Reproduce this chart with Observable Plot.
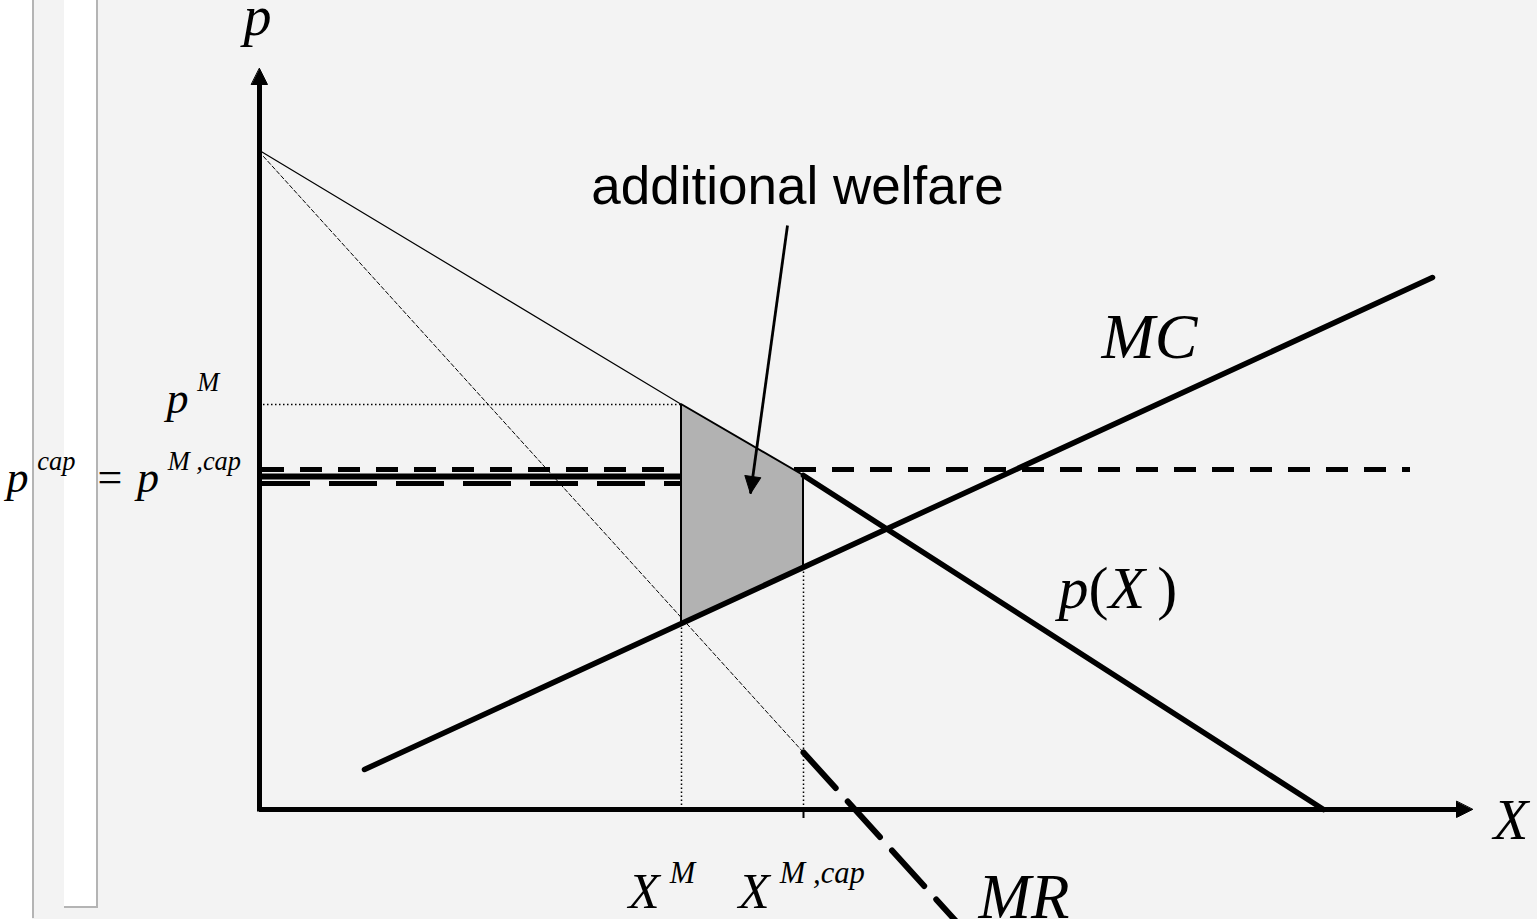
<!DOCTYPE html>
<html>
<head>
<meta charset="utf-8">
<script src="https://cdn.jsdelivr.net/npm/d3@7"></script>
<script src="https://cdn.jsdelivr.net/npm/@observablehq/plot@0.6"></script>
<style>
  html, body { margin: 0; padding: 0; background: #f3f3f3; }
  #stage { position: relative; width: 1537px; height: 919px; overflow: hidden; background: #f3f3f3; }
  .panel { position: absolute; }
  #chart { position: absolute; left: 0; top: 0; }
</style>
</head>
<body>
<div id="stage">
  <div class="panel" style="left:0;top:0;width:32px;height:919px;background:#fff"></div>
  <div class="panel" style="left:32px;top:0;width:2px;height:918px;background:#b4b4b4"></div>
  <div class="panel" style="left:64px;top:0;width:32px;height:906px;background:#fff;border-right:2px solid #b4b4b4;border-bottom:2px solid #b4b4b4"></div>
  <div id="chart"></div>
</div>
<script>
// Inverse demand p(X)
const demandX = [0, 4.22, 5.44, 10.64];
const demandP = [6.59, 4.05, 3.34, 0];

// Marginal cost MC
const mcX = [1.05, 11.73];
const mcP = [0.40, 5.32];

// Marginal revenue MR
const mrX = [0.04, 5.44, 7.13];
const mrP = [6.53, 0.57, -1.30];

// Monopoly outcome and outcome under the price cap
const quantityXM = 4.22;
const quantityXcap = 5.44;
const priceM = 4.05;
const priceCap = 3.40;       // p^cap, drawn across the whole market
const priceMcapSolid = 3.33; // p^{M,cap} as charged up to X^M
const priceMcapDash = 3.26;
const capLineEnd = 11.51;
const mcAtXcap = 2.42;

// Additional welfare: between MC (lower) and demand (upper) from X^M to X^{M,cap}
const gainX = [4.22, 5.44];
const gainLow = [1.86, 2.42];
const gainHigh = [4.05, 3.34];

// Axis extents
const axisXEnd = 12.13;
const axisPEnd = 7.41;

// Annotation pointer
const pointerFrom = [5.28, 5.84];
const pointerTo = [4.91, 3.16];

const rows = (xs, ps) => xs.map((x, i) => ({x, p: ps[i]}));
const demandThin = rows(demandX.slice(0, 2), demandP.slice(0, 2));
const demandBold = rows(demandX.slice(2), demandP.slice(2));
const mc = rows(mcX, mcP);
const mrThin = rows(mrX.slice(0, 2), mrP.slice(0, 2));
const mrBold = rows(mrX.slice(1), mrP.slice(1));
const gain = gainX.map((x, i) => ({x, lo: gainLow[i], hi: gainHigh[i]}));

// Filled triangular arrowhead, tip at the anchor point
const headShape = {
  draw(ctx, l, r) {
    ctx.moveTo(0, -l);
    ctx.lineTo(r, 0);
    ctx.lineTo(-r, 0);
    ctx.closePath();
  }
};

const xDomain = [-2.59, 12.78];
const yDomain = [-1.10, 8.09];
const W = 1537, H = 919;
// pixel-per-unit ratios, used to orient the pointer head
const kx = W / (xDomain[1] - xDomain[0]);
const ky = H / (yDomain[1] - yDomain[0]);
const pointerAngle = Math.atan2((pointerTo[0] - pointerFrom[0]) * kx, (pointerTo[1] - pointerFrom[1]) * ky) * 180 / Math.PI;

const heads = [
  {x: 0, p: axisPEnd, angle: 0},
  {x: axisXEnd, p: 0, angle: 90}
];

// Math labels: "^{...}" marks a superscript
const mathLabels = [
  {text: "p", x: -0.02, p: 7.75, size: 56, anchor: "middle"},
  {text: "X", x: 12.34, p: -0.29, size: 57, anchor: "start"},
  {text: "MC", x: 8.42, p: 4.52, size: 64, anchor: "start"},
  {text: "p(X\u2009)", x: 7.99, p: 2.02, size: 60, anchor: "start"},
  {text: "MR", x: 7.19, p: -1.08, size: 63, anchor: "start"},
  {text: "p^{M}", x: -0.93, p: 3.97, size: 44, anchor: "start"},
  {text: "p^{cap}\u2002=\u2004p^{M ,cap}", x: -2.53, p: 3.18, size: 44, anchor: "start"},
  {text: "X^{M}", x: 3.69, p: -0.98, size: 51, anchor: "start"},
  {text: "X^{M ,cap}", x: 4.79, p: -0.98, size: 51, anchor: "start"}
];

const dotted = {stroke: "#000", strokeWidth: 1.5, strokeDasharray: "1.5,2.5"};
const serif = "Liberation Serif, Times New Roman, serif";

const chart = Plot.plot({
  width: W,
  height: H,
  margin: 0,
  x: {domain: xDomain, axis: null},
  y: {domain: yDomain, axis: null},
  style: {background: "transparent", overflow: "visible"},
  marks: [
    // MR, thin dashed segment
    Plot.line(mrThin, {x: "x", y: "p", stroke: "#000", strokeWidth: 1, strokeDasharray: "4,2.5"}),
    // demand, thin segment up to the monopoly point
    Plot.line(demandThin, {x: "x", y: "p", stroke: "#000", strokeWidth: 1.2}),
    // dotted guides
    Plot.ruleY([priceM], {y: d => d, x1: 0, x2: quantityXM, ...dotted}),
    Plot.ruleX([quantityXM], {x: d => d, y1: 0, y2: priceM, ...dotted}),
    Plot.ruleX([quantityXcap], {x: d => d, y1: 0, y2: mcAtXcap, ...dotted}),
    Plot.ruleX([quantityXcap], {x: d => d, y1: -0.09, y2: 0, stroke: "#000", strokeWidth: 2}),
    // price-cap levels
    Plot.ruleY([priceCap], {y: d => d, x1: 0.03, x2: capLineEnd, stroke: "#000", strokeWidth: 5, strokeDasharray: "22,16"}),
    Plot.ruleY([priceMcapSolid], {y: d => d, x1: 0, x2: quantityXM, stroke: "#000", strokeWidth: 6}),
    Plot.ruleY([priceMcapDash], {y: d => d, x1: 0.03, x2: quantityXM, stroke: "#000", strokeWidth: 5, strokeDasharray: "48,19"}),
    // additional welfare
    Plot.areaY(gain, {x: "x", y1: "lo", y2: "hi", fill: "#b2b2b2", stroke: "#000", strokeWidth: 2, strokeLinejoin: "miter"}),
    // MC and bold demand
    Plot.line(mc, {x: "x", y: "p", stroke: "#000", strokeWidth: 5.5}),
    Plot.line(demandBold, {x: "x", y: "p", stroke: "#000", strokeWidth: 5.5}),
    // MR, bold dashed segment
    Plot.line(mrBold, {x: "x", y: "p", stroke: "#000", strokeWidth: 6, strokeDasharray: "48,18"}),
    // axes
    Plot.ruleX([0], {x: d => d, y1: 0, y2: axisPEnd - 0.14, stroke: "#000", strokeWidth: 5, strokeLinecap: "square"}),
    Plot.ruleY([0], {y: d => d, x1: 0, x2: axisXEnd - 0.14, stroke: "#000", strokeWidth: 5}),
    Plot.vector(heads, {x: "x", y: "p", rotate: "angle", length: 16, r: 8, anchor: "end", shape: headShape, fill: "#000", stroke: "#000", strokeWidth: 1}),
    // pointer to the welfare area
    Plot.link([0], {x1: pointerFrom[0], y1: pointerFrom[1], x2: pointerTo[0], y2: pointerTo[1], stroke: "#000", strokeWidth: 2.8}),
    Plot.vector([0], {x: pointerTo[0], y: pointerTo[1], rotate: pointerAngle, length: 17, r: 8, anchor: "end", shape: headShape, fill: "#000", stroke: "#000", strokeWidth: 1}),
    // labels
    Plot.text(["additional welfare"], {x: 5.38, y: 6.06, text: d => d, fontFamily: "Liberation Sans, Arial, sans-serif", fontSize: 53, lineAnchor: "bottom", textAnchor: "middle", fill: "#000"}),
    Plot.text(mathLabels, {x: "x", y: "p", text: "text", fontSize: "size", textAnchor: "start", lineAnchor: "bottom", fontFamily: serif, fontStyle: "italic", fill: "#000", filter: d => d.anchor === "start"}),
    Plot.text(mathLabels, {x: "x", y: "p", text: "text", fontSize: "size", textAnchor: "middle", lineAnchor: "bottom", fontFamily: serif, fontStyle: "italic", fill: "#000", filter: d => d.anchor === "middle"})
  ]
});

// Typeset math labels: "^{...}" becomes a raised, smaller tspan;
// brackets and "=" are set upright as in an equation
function typeset(svg) {
  const NS = "http://www.w3.org/2000/svg";
  for (const t of svg.querySelectorAll("text")) {
    const s = t.textContent;
    if (!/\^\{|[()=]/.test(s)) continue;
    const fs = parseFloat(t.getAttribute("font-size")) || 44;
    while (t.firstChild) t.removeChild(t.firstChild);
    let raised = false;
    const add = (str, sup) => {
      const ts = document.createElementNS(NS, "tspan");
      ts.textContent = str;
      if (sup) {
        ts.setAttribute("font-size", (fs * 0.6).toFixed(1));
        ts.setAttribute("dy", (-fs * 0.48).toFixed(1));
        ts.setAttribute("dx", (fs * 0.2).toFixed(1));
      } else if (raised) {
        ts.setAttribute("dy", (fs * 0.48).toFixed(1));
      }
      if (!sup && /^[()=]$/.test(str)) ts.setAttribute("font-style", "normal");
      t.appendChild(ts);
      raised = sup;
    };
    const addBase = (str) => str.split(/([()=])/).filter(x => x.length).forEach(x => add(x, false));
    const re = /\^\{([^}]*)\}/g;
    let last = 0, m;
    while ((m = re.exec(s))) {
      if (m.index > last) addBase(s.slice(last, m.index));
      add(m[1], true);
      last = re.lastIndex;
    }
    if (last < s.length) addBase(s.slice(last));
  }
}
typeset(chart);
document.getElementById("chart").appendChild(chart);
</script>
</body>
</html>
